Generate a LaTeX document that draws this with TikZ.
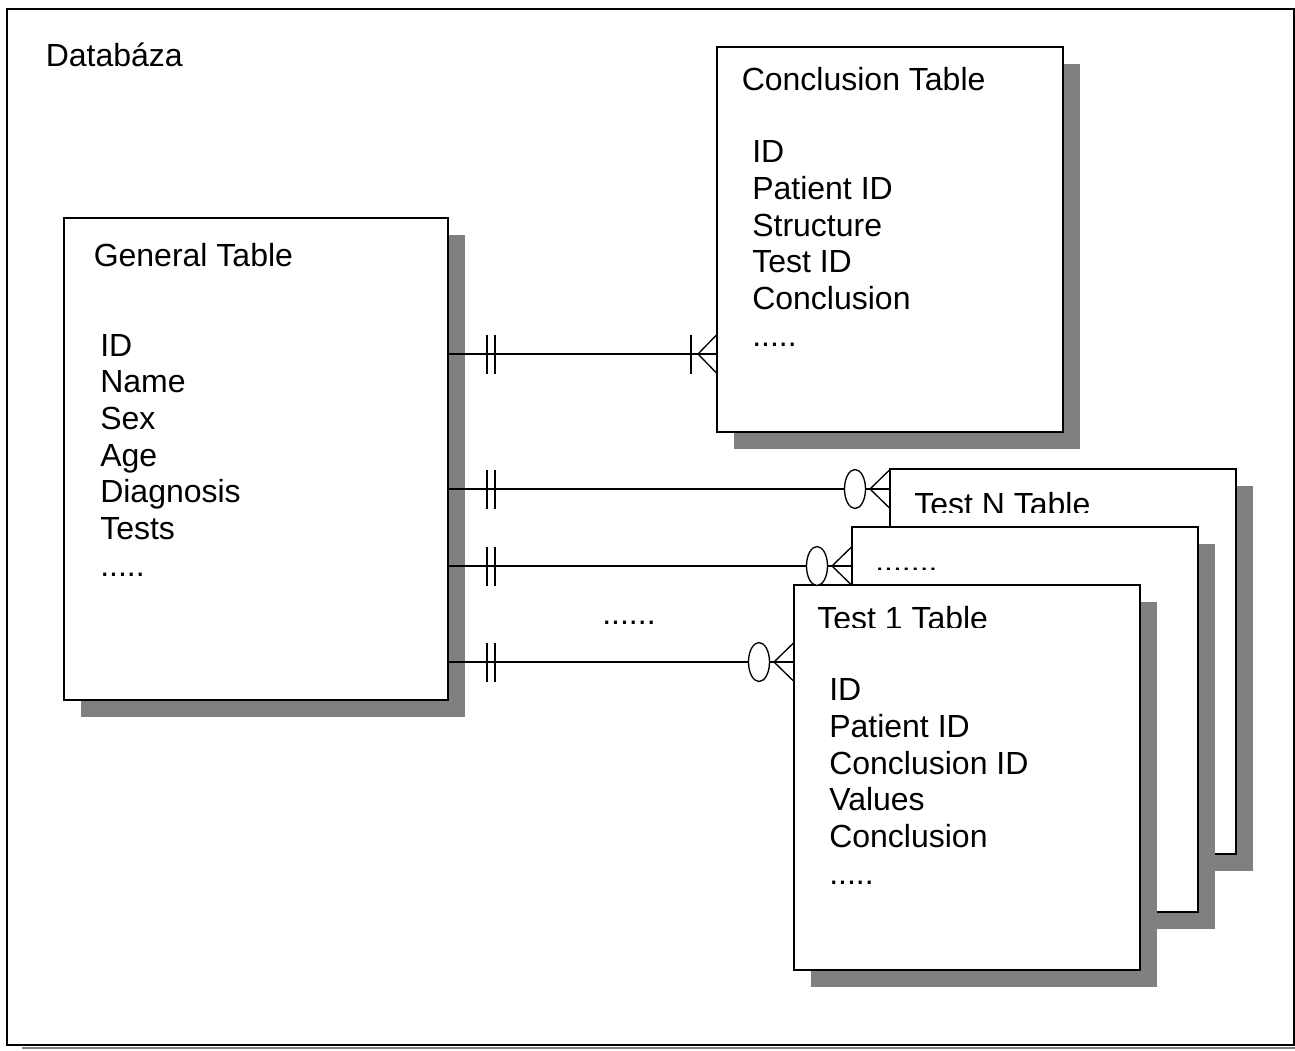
\documentclass[tikz,border=0pt]{standalone}
\usepackage{fontspec}
\setmainfont{Liberation Sans}
\usetikzlibrary{calc,shadows}
\definecolor{shadowgray}{RGB}{128,128,128}
\tikzset{
  tbl/.style={draw=black, line width=1.2pt, fill=white, rectangle, inner sep=0pt, outer sep=0pt,
    anchor=north west, minimum width=259.5pt, minimum height=288.75pt,
    drop shadow={shadow xshift=12.75pt, shadow yshift=-12.75pt, fill=shadowgray, opacity=1}},
  lbl/.style={anchor=base west, inner sep=0pt, font=\fontsize{24pt}{27.5pt}\selectfont},
  lst/.style={lbl, align=left},
  conn/.style={line width=1pt},
  frm/.style={draw=black, line width=1.5pt, rectangle, inner sep=0pt, outer sep=0pt, anchor=north west,
    minimum width=964.9pt, minimum height=777pt},
}
\begin{document}
\begin{tikzpicture}[x=0.75pt, y=-0.75pt]
\useasboundingbox (0,0) rectangle (1295,1050);
% outer frame
\draw[shadowgray, line width=1.5pt] (22,1048) -- (1295,1048);
\node[frm] (frame) at (7,9) {};
\node[lbl] (title) at (45.5,66) {Databáza};

% tables
\node[tbl] (conc) at (717,47) {};
\node[tbl, minimum width=288pt, minimum height=361.5pt] (gen) at (64,218) {};
\node[tbl] (testN) at (890,469) {};
\node[tbl] (mid) at (852,527) {};
\node[tbl] (test1) at (794,585) {};

% general table text (base anchor = last line baseline)
\node[lbl] (genT) at (93.5,266) {General Table};
\node[lst] (genL) at (100,576.2) {ID\\Name\\Sex\\Age\\Diagnosis\\Tests\\.....};

% conclusion table text
\begin{scope}
  \clip (conc.north west) rectangle ($(conc.north east)+(0,43)$);
  \node[lbl] (concT) at (741.5,90.5) {Conclusion Table};
\end{scope}
\node[lst] (concL) at (752,346.3) {ID\\Patient ID\\Structure\\Test ID\\Conclusion\\.....};

% test N
\begin{scope}
  \clip (testN.north west) rectangle ($(testN.north east)+(0,43)$);
  \node[lbl] (testNT) at (914,515.5) {Test N Table};
\end{scope}
% middle
\begin{scope}
  \clip (mid.north west) rectangle ($(mid.north east)+(0,42)$);
  \node[lbl] (midT) at (875,571) {.......};
\end{scope}
% test 1
\begin{scope}
  \clip (test1.north west) rectangle ($(test1.north east)+(0,42)$);
  \node[lbl] (test1T) at (817,629) {Test 1 Table};
\end{scope}
\node[lst] (test1L) at (829,884) {ID\\Patient ID\\Conclusion ID\\Values\\Conclusion\\.....};

\node[lbl] (dots) at (602,624.5) {......};

% connector levels
\coordinate (r1) at (0,354);
\coordinate (r2) at (0,489);
\coordinate (r3) at (0,566);
\coordinate (r4) at (0,662);

% general -> conclusion (one-and-only-one to one-or-many)
\draw[conn] (gen.east |- r1) coordinate (s1) -- (conc.west |- r1) coordinate (e1);
\draw[conn] ($(s1)+(39,-19.5)$) -- ($(s1)+(39,19.5)$)
            ($(s1)+(47,-19.5)$) -- ($(s1)+(47,19.5)$);
\draw[conn] ($(e1)+(-26,-19.5)$) -- ($(e1)+(-26,19.5)$);
\draw[conn] ($(e1)+(0,-19.5)$) -- ($(e1)+(-19,0)$) -- ($(e1)+(0,19.5)$);

% general -> tests (one-and-only-one to zero-or-many)
\foreach \r/\b in {r2/testN, r3/mid, r4/test1} {
  \draw[conn] (gen.east |- \r) coordinate (s) -- (\b.west |- \r) coordinate (e);
  \draw[conn] ($(s)+(39,-19.5)$) -- ($(s)+(39,19.5)$)
              ($(s)+(47,-19.5)$) -- ($(s)+(47,19.5)$);
  \draw[conn] ($(e)+(0,-19.5)$) -- ($(e)+(-20,0)$) -- ($(e)+(0,19.5)$);
  \draw[conn, fill=white] ($(e)+(-35,0)$) ellipse [x radius=7.875pt, y radius=14.625pt];
}
\end{tikzpicture}
\end{document}
